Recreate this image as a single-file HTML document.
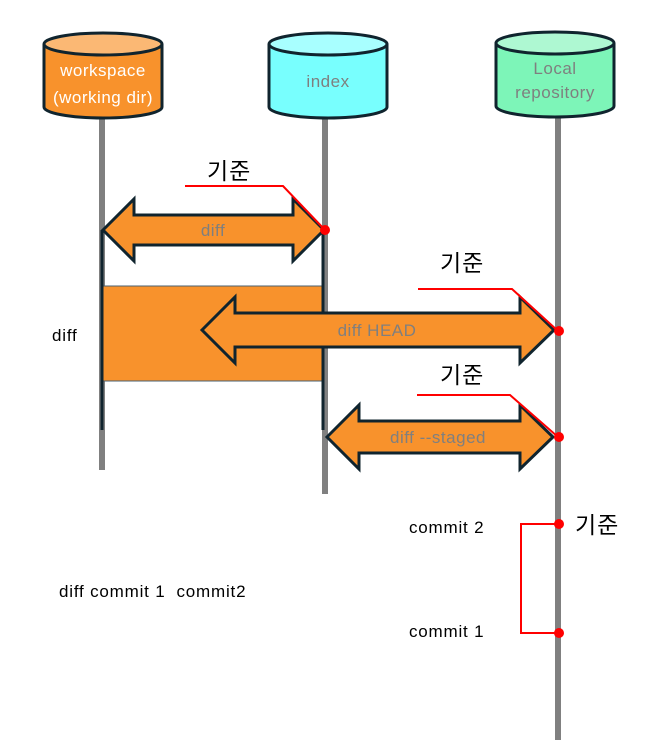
<!DOCTYPE html>
<html><head><meta charset="utf-8"><style>
html,body{margin:0;padding:0;background:#fff;}
svg{display:block;}
text{font-family:"Liberation Sans","Noto Sans CJK KR",sans-serif;white-space:pre;}
</style></head><body>
<svg width="668" height="751" viewBox="0 0 668 751" xmlns="http://www.w3.org/2000/svg">
<line x1="102" y1="115" x2="102" y2="470" stroke="#808080" stroke-width="6"/>
<line x1="325" y1="115" x2="325" y2="494" stroke="#808080" stroke-width="6"/>
<line x1="558" y1="115" x2="558" y2="740" stroke="#808080" stroke-width="6"/>
<g stroke="#10242e" stroke-width="3">
<path d="M44 44 V107 A59 11 0 0 0 162 107 V44" fill="#f8922c"/>
<ellipse cx="103" cy="44" rx="59" ry="11" fill="#fbb874"/>
<path d="M269 44 V107 A59 11 0 0 0 387 107 V44" fill="#78fffe"/>
<ellipse cx="328" cy="44" rx="59" ry="11" fill="#a8ffff"/>
<path d="M496 43 V106 A59 11 0 0 0 614 106 V43" fill="#7df5b8"/>
<ellipse cx="555" cy="43" rx="59" ry="11" fill="#aef8d2"/>
</g>
<g font-size="17" letter-spacing="0.5" text-anchor="middle">
<text x="103" y="76" fill="#fff">workspace</text>
<text x="103" y="103" fill="#fff">(working dir)</text>
<text x="328" y="87" fill="#7f7f7f">index</text>
<text x="555" y="74" fill="#7f7f7f">Local</text>
<text x="555" y="98" fill="#7f7f7f">repository</text>
</g>
<rect x="102" y="286" width="221" height="95" fill="#f8922c" stroke="#4a6070" stroke-width="1"/>
<line x1="102" y1="230" x2="102" y2="430" stroke="#10242e" stroke-width="3"/>
<line x1="323" y1="230" x2="323" y2="430" stroke="#10242e" stroke-width="3"/>
<g fill="#f8922c" stroke="#10242e" stroke-width="3" stroke-linejoin="miter">
<path d="M103 230 L134 199 V215 H293 V199 L324 230 L293 261 V245 H134 V261 Z"/>
<path d="M202 330 L235 297 V313 H520 V297 L554 330 L520 363 V347 H235 V363 Z"/>
<path d="M327 437 L359 405 V421 H520 V405 L553 437 L520 469 V453 H359 V469 Z"/>
</g>
<g font-size="17" letter-spacing="0.5" text-anchor="middle" fill="#7f7f7f">
<text x="213" y="236">diff</text>
<text x="377" y="336">diff HEAD</text>
<text x="438" y="443">diff --staged</text>
</g>
<g fill="none" stroke="#ff0000" stroke-width="2">
<polyline points="185,186 283,186 325,230"/>
<polyline points="418,289 512,289 558,331"/>
<polyline points="417,395 510,395 558,437"/>
<polyline points="558,524 521,524 521,633 558,633"/>
</g>
<g fill="#ff0000">
<circle cx="325" cy="230" r="5"/>
<circle cx="559" cy="331" r="5"/>
<circle cx="559" cy="437" r="5"/>
<circle cx="559" cy="524" r="5"/>
<circle cx="559" cy="633" r="5"/>
</g>
<g font-size="23" letter-spacing="1" fill="#000">
<text x="207" y="179">기준</text>
<text x="440" y="271">기준</text>
<text x="440" y="383">기준</text>
<text x="575" y="533">기준</text>
</g>
<g font-size="17" letter-spacing="0.8" fill="#000">
<text x="52" y="341">diff</text>
<text x="409" y="533">commit 2</text>
<text x="409" y="637">commit 1</text>
<text x="59" y="597">diff commit 1  commit2</text>
</g>
</svg>
</body></html>
